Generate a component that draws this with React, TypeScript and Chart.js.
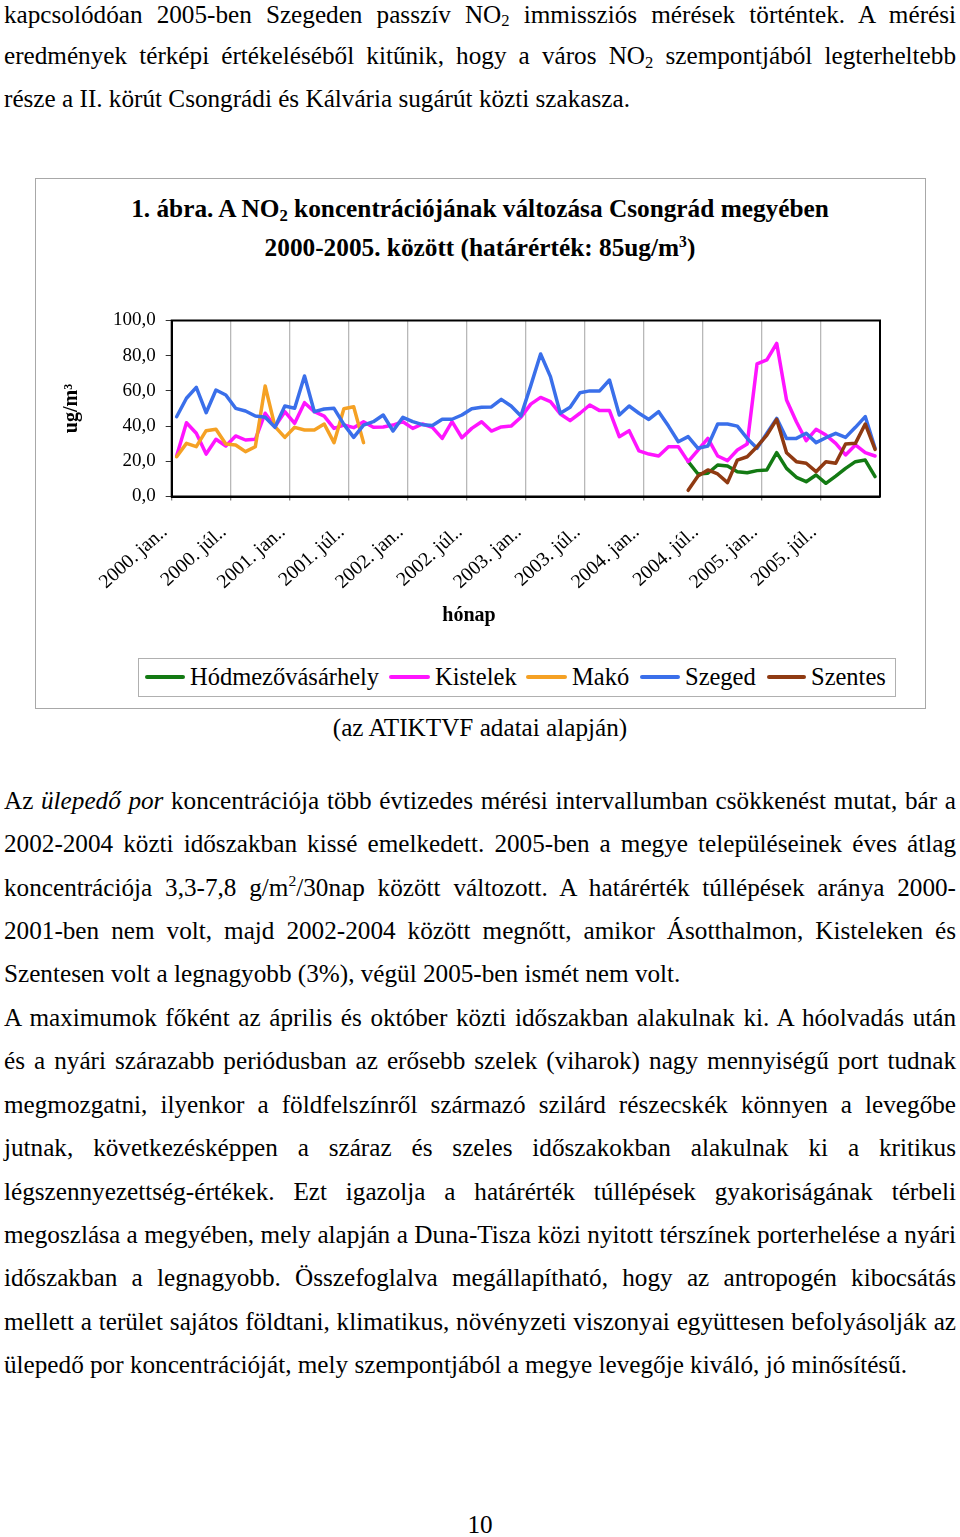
import React, { useEffect, useRef } from 'react';
import { Chart, registerables } from 'chart.js';
Chart.register(...registerables);

// ---------- data ----------
const years = ['2000', '2001', '2002', '2003', '2004', '2005'];
const monthNames = ['jan.', 'febr.', 'márc.', 'ápr.', 'máj.', 'jún.', 'júl.', 'aug.', 'szept.', 'okt.', 'nov.', 'dec.'];
const categories = years.flatMap((y) => monthNames.map((m) => `${y}. ${m}.`));
const tickLabels = [
  '2000. jan..', '2000. júl..', '2001. jan..', '2001. júl..', '2002. jan..', '2002. júl..',
  '2003. jan..', '2003. júl..', '2004. jan..', '2004. júl..', '2005. jan..', '2005. júl..',
];

const hodmezovasarhely = [
  null, null, null, null, null, null, null, null, null, null, null, null,
  null, null, null, null, null, null, null, null, null, null, null, null,
  null, null, null, null, null, null, null, null, null, null, null, null,
  null, null, null, null, null, null, null, null, null, null, null, null,
  null, null, null, null, 19.8, 12.8, 13.2, 17.9, 17.3, 14.1, 13.5, 14.7,
  15.1, 24.9, 16.0, 10.9, 8.4, 12.2, 7.5, 11.6, 16.0, 19.8, 20.7, 11.3,
];
const kistelek = [
  23.0, 41.9, 35.9, 24.1, 32.5, 28.7, 34.4, 32.1, 32.5, 47.3, 39.7, 48.2,
  41.6, 53.3, 48.2, 45.7, 38.7, 40.6, 39.1, 42.5, 39.3, 39.5, 40.6, 42.5,
  38.7, 41.2, 39.3, 33.0, 42.5, 33.4, 38.7, 42.5, 37.2, 39.5, 40.0, 45.0,
  52.5, 56.3, 53.9, 46.9, 43.1, 47.3, 52.0, 48.8, 48.8, 34.0, 37.4, 25.9,
  24.1, 23.0, 28.3, 28.3, 19.8, 26.4, 33.0, 23.0, 20.4, 26.4, 29.8, 75.3,
  77.6, 87.0, 54.8, 42.5, 31.7, 38.2, 34.9, 30.2, 23.6, 29.3, 24.9, 23.0,
];
const mako = [
  22.6, 30.2, 28.3, 37.4, 38.2, 29.8, 29.3, 25.5, 28.3, 62.8, 39.7, 33.6,
  39.3, 37.8, 37.8, 41.2, 30.6, 49.9, 51.0, 30.6, null, null, null, null,
  null, null, null, null, null, null, null, null, null, null, null, null,
  null, null, null, null, null, null, null, null, null, null, null, null,
  null, null, null, null, null, null, null, null, null, null, null, null,
  null, null, null, null, null, null, null, null, null, null, null, null,
];
const szeged = [
  45.3, 55.8, 62.0, 47.6, 60.5, 57.7, 50.1, 48.6, 45.7, 45.0, 39.3, 51.4,
  50.1, 68.5, 48.2, 49.7, 50.1, 41.0, 33.6, 40.6, 42.5, 46.3, 37.2, 45.0,
  42.5, 40.8, 40.4, 43.9, 43.9, 46.3, 49.9, 50.7, 50.9, 55.2, 51.4, 45.8,
  63.0, 81.0, 68.1, 47.3, 50.7, 59.0, 60.0, 60.0, 66.2, 46.3, 51.4, 47.3,
  43.8, 48.2, 40.0, 31.1, 34.0, 27.4, 28.7, 41.2, 41.2, 40.0, 33.0, 27.4,
  35.9, 44.4, 33.0, 33.0, 35.9, 30.6, 33.4, 35.9, 33.6, 39.3, 45.4, 27.4,
];
const szentes = [
  null, null, null, null, null, null, null, null, null, null, null, null,
  null, null, null, null, null, null, null, null, null, null, null, null,
  null, null, null, null, null, null, null, null, null, null, null, null,
  null, null, null, null, null, null, null, null, null, null, null, null,
  null, null, null, null, 3.5, 11.6, 15.1, 12.8, 7.9, 20.7, 22.6, 28.3,
  34.9, 43.8, 24.9, 19.8, 18.9, 14.1, 19.8, 18.9, 29.8, 30.2, 41.2, 26.8,
];

const seriesNames = ['Hódmezővásárhely', 'Kistelek', 'Makó', 'Szeged', 'Szentes'];
const seriesData = [hodmezovasarhely, kistelek, mako, szeged, szentes];
const seriesColors = ['#137a13', '#ff14ff', '#f5a124', '#3a6fea', '#8f3a12'];

// ---------- layout helpers ----------
const SERIF = '"Liberation Serif", "Times New Roman", serif';
const lineTop = (baseline: number, fs: number, L: number) => baseline - ((L - 1.107 * fs) / 2 + 0.891 * fs);

const Sub = ({ children }: { children: React.ReactNode }) => (
  <span style={{ fontSize: '0.66em', position: 'relative', top: '0.22em', lineHeight: 0 }}>{children}</span>
);
const Sup = ({ children }: { children: React.ReactNode }) => (
  <span style={{ fontSize: '0.62em', position: 'relative', top: '-0.62em', lineHeight: 0 }}>{children}</span>
);

const BODY_FS = 25.2;

const TextLine = ({
  baseline,
  justify,
  children,
  L = 30,
}: {
  baseline: number;
  justify: boolean;
  children: React.ReactNode;
  L?: number;
}) => (
  <div
    style={{
      position: 'absolute',
      left: 4,
      width: 952,
      top: lineTop(baseline, BODY_FS, L),
      height: L,
      lineHeight: `${L}px`,
      fontSize: BODY_FS,
      fontFamily: SERIF,
      color: '#000',
      textAlign: justify ? 'justify' : 'left',
      textAlignLast: justify ? 'justify' : 'left',
    }}
  >
    {children}
  </div>
);

const para1 = [
  <>kapcsolódóan 2005-ben Szegeden passzív NO<Sub>2</Sub> immissziós mérések történtek. A mérési</>,
  <>eredmények térképi értékeléséből kitűnik, hogy a város NO<Sub>2</Sub> szempontjából legterheltebb</>,
  <>része a II. körút Csongrádi és Kálvária sugárút közti szakasza.</>,
];
const para1Base = [23.2, 64.6, 107.6];
const para1Just = [true, true, false];

const para2 = [
  <>Az <i>ülepedő por</i> koncentrációja több évtizedes mérési intervallumban csökkenést mutat, bár a</>,
  <>2002-2004 közti időszakban kissé emelkedett. 2005-ben a megye településeinek éves átlag</>,
  <>koncentrációja 3,3-7,8 g/m<Sup>2</Sup>/30nap között változott. A határérték túllépések aránya 2000-</>,
  <>2001-ben nem volt, majd 2002-2004 között megnőtt, amikor Ásotthalmon, Kisteleken és</>,
  <>Szentesen volt a legnagyobb (3%), végül 2005-ben ismét nem volt.</>,
  <>A maximumok főként az április és október közti időszakban alakulnak ki. A hóolvadás után</>,
  <>és a nyári szárazabb periódusban az erősebb szelek (viharok) nagy mennyiségű port tudnak</>,
  <>megmozgatni, ilyenkor a földfelszínről származó szilárd részecskék könnyen a levegőbe</>,
  <>jutnak, következésképpen a száraz és szeles időszakokban alakulnak ki a kritikus</>,
  <>légszennyezettség-értékek. Ezt igazolja a határérték túllépések gyakoriságának térbeli</>,
  <>megoszlása a megyében, mely alapján a Duna-Tisza közi nyitott térszínek porterhelése a nyári</>,
  <>időszakban a legnagyobb. Összefoglalva megállapítható, hogy az antropogén kibocsátás</>,
  <>mellett a terület sajátos földtani, klimatikus, növényzeti viszonyai együttesen befolyásolják az</>,
  <>ülepedő por koncentrációját, mely szempontjából a megye levegője kiváló, jó minősítésű.</>,
];
const para2Just = [true, true, true, true, false, true, true, true, true, true, true, true, true, false];

// ---------- chart ----------
const CANVAS_LEFT = 36;
const CANVAS_TOP = 296;
const CANVAS_W = 888;
const CANVAS_H = 310;

const framePlugin = {
  id: 'frame',
  afterDatasetsDraw(chart: any) {
    const { ctx, chartArea } = chart;
    ctx.save();
    ctx.strokeStyle = '#000';
    ctx.lineWidth = 2;
    ctx.strokeRect(chartArea.left, chartArea.top, chartArea.right - chartArea.left, chartArea.bottom - chartArea.top);
    ctx.restore();
  },
};

function NO2Chart() {
  const ref = useRef<HTMLCanvasElement | null>(null);
  useEffect(() => {
    if (!ref.current) return;
    const chart = new Chart(ref.current, {
      type: 'line',
      data: {
        labels: categories,
        datasets: seriesNames.map((name, i) => ({
          label: name,
          data: seriesData[i],
          borderColor: seriesColors[i],
          backgroundColor: seriesColors[i],
          borderWidth: 3.5,
          pointRadius: 0,
          tension: 0,
          spanGaps: false,
          order: seriesNames.length - 1 - i,
          borderJoinStyle: 'round',
          borderCapStyle: 'round',
        })) as any,
      },
      options: {
        animation: false,
        responsive: false,
        devicePixelRatio: 1,
        layout: { padding: { left: 0, right: 44, top: 24.5, bottom: 0 } },
        plugins: {
          legend: { display: false },
          title: { display: false },
          tooltip: { enabled: false },
        },
        scales: {
          x: {
            type: 'category',
            offset: true,
            grid: {
              offset: true,
              drawOnChartArea: true,
              lineWidth: 1.3,
              tickLength: 4,
              color: (ctx: any) => (ctx.index !== undefined && ctx.index % 6 === 0 && ctx.index !== 0 ? '#b8b8b8' : 'rgba(0,0,0,0)'),
              tickColor: (ctx: any) => (ctx.index !== undefined && ctx.index % 6 === 0 ? '#888' : 'rgba(0,0,0,0)'),
            },
            border: { display: true, color: '#000', width: 2 },
            ticks: {
              autoSkip: false,
              minRotation: 42,
              maxRotation: 42,
              padding: 20,
              labelOffset: -12,
              color: '#000',
              font: { family: SERIF, size: 19.8 },
              callback: (_v: any, i: number) => (i % 6 === 0 ? tickLabels[i / 6] : ''),
            },
            afterFit: (s: any) => {
              s.height = CANVAS_H - 200.5;
            },
          } as any,
          y: {
            min: 0,
            max: 100,
            ticks: {
              stepSize: 20,
              padding: 10,
              color: '#000',
              font: { family: SERIF, size: 19 },
              callback: (v: any) => Number(v).toFixed(1).replace('.', ','),
            },
            grid: { drawOnChartArea: false, drawTicks: true, tickLength: 6, tickColor: '#333', color: '#000' },
            border: { display: true, color: '#000', width: 2 },
            title: {
              display: true,
              text: 'ug/m³',
              color: '#000',
              font: { family: SERIF, size: 20, weight: 'bold' },
              padding: { top: 24, bottom: 0 },
            },
            afterFit: (s: any) => {
              s.width = 171.7 - CANVAS_LEFT;
            },
          } as any,
        },
      },
      plugins: [framePlugin],
    });
    return () => chart.destroy();
  }, []);
  return (
    <canvas
      ref={ref}
      width={CANVAS_W}
      height={CANVAS_H}
      style={{ position: 'absolute', left: CANVAS_LEFT, top: CANVAS_TOP, width: CANVAS_W, height: CANVAS_H }}
    />
  );
}

const legendItems = [
  { x: 145, w: 40 },
  { x: 389, w: 41 },
  { x: 526, w: 41 },
  { x: 640, w: 40 },
  { x: 767, w: 39 },
];

export default function App() {
  const TITLE_FS = 25.3;
  const titleStyle = (baseline: number): React.CSSProperties => ({
    position: 'absolute',
    left: 35,
    width: 890,
    top: lineTop(baseline, TITLE_FS, 32),
    height: 32,
    lineHeight: '32px',
    fontSize: TITLE_FS,
    fontWeight: 'bold',
    fontFamily: SERIF,
    textAlign: 'center',
    color: '#000',
    whiteSpace: 'nowrap',
  });
  return (
    <div style={{ position: 'absolute', left: 0, top: 0, width: 960, height: 1537, overflow: 'hidden', background: '#fff' }}>
      {para1.map((c, i) => (
        <TextLine key={'p1' + i} baseline={para1Base[i]} justify={para1Just[i]} L={30}>
          {c}
        </TextLine>
      ))}

      {/* chart box */}
      <div
        style={{
          position: 'absolute',
          left: 35,
          top: 178,
          width: 889,
          height: 529,
          border: '1px solid #a8a8a8',
          background: '#fff',
        }}
      />
      <div style={titleStyle(217)}>
        1. ábra. A NO<Sub>2</Sub> koncentrációjának változása Csongrád megyében
      </div>
      <div style={titleStyle(256)}>
        2000-2005. között (határérték: 85ug/m<Sup>3</Sup>)
      </div>
      <NO2Chart />
      <div
        style={{
          position: 'absolute',
          left: 369,
          width: 200,
          top: lineTop(621, 20, 26),
          height: 26,
          lineHeight: '26px',
          fontSize: 20,
          fontWeight: 'bold',
          fontFamily: SERIF,
          textAlign: 'center',
        }}
      >
        hónap
      </div>

      {/* legend */}
      <div
        style={{
          position: 'absolute',
          left: 138,
          top: 658,
          width: 756,
          height: 37,
          border: '1px solid #b0b0b0',
          background: '#fff',
        }}
      />
      {seriesNames.map((name, i) => (
        <React.Fragment key={name}>
          <div
            style={{
              position: 'absolute',
              left: legendItems[i].x,
              top: 675,
              width: legendItems[i].w,
              height: 4,
              borderRadius: 2,
              background: seriesColors[i],
            }}
          />
          <div
            style={{
              position: 'absolute',
              left: legendItems[i].x + legendItems[i].w + 5,
              top: lineTop(685, 24.5, 30),
              height: 30,
              lineHeight: '30px',
              fontSize: 24.5,
              fontFamily: SERIF,
              whiteSpace: 'nowrap',
              color: '#000',
            }}
          >
            {name}
          </div>
        </React.Fragment>
      ))}

      <div
        style={{
          position: 'absolute',
          left: 0,
          width: 960,
          top: lineTop(737, BODY_FS, 30),
          height: 30,
          lineHeight: '30px',
          fontSize: BODY_FS,
          fontFamily: SERIF,
          textAlign: 'center',
        }}
      >
        (az ATIKTVF adatai alapján)
      </div>

      {para2.map((c, i) => (
        <TextLine key={'p2' + i} baseline={809.3 + i * 43.42} justify={para2Just[i]}>
          {c}
        </TextLine>
      ))}

      <div
        style={{
          position: 'absolute',
          left: 0,
          width: 960,
          top: lineTop(1534, BODY_FS, 20),
          height: 20,
          lineHeight: '20px',
          fontSize: BODY_FS,
          fontFamily: SERIF,
          textAlign: 'center',
        }}
      >
        10
      </div>
    </div>
  );
}
